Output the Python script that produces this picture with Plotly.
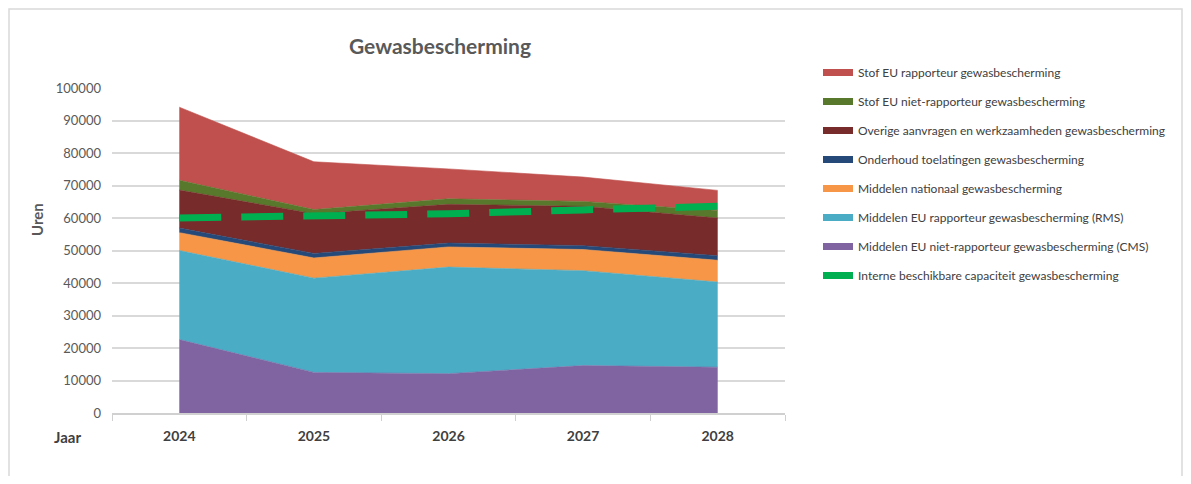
import plotly.graph_objects as go

years = ["2024", "2025", "2026", "2027", "2028"]

cms = [22600, 12500, 12100, 14600, 14100]            # Middelen EU niet-rapporteur (CMS)
rms = [27400, 29000, 32800, 29200, 26200]            # Middelen EU rapporteur (RMS)
nationaal = [5500, 6200, 6200, 6500, 6700]           # Middelen nationaal
onderhoud = [1400, 1400, 1200, 1200, 1400]           # Onderhoud toelatingen
overige = [11700, 12200, 11900, 12100, 11600]        # Overige aanvragen en werkzaamheden
stof_niet = [3000, 1300, 1700, 1500, 2300]           # Stof EU niet-rapporteur
stof_rap = [22500, 14700, 9200, 7500, 6200]          # Stof EU rapporteur
capaciteit = [60000, 60500, 61300, 62500, 63600]     # Interne beschikbare capaciteit

series = [
    ("Middelen EU niet-rapporteur gewasbescherming (CMS)", cms, "#8064A2"),
    ("Middelen EU rapporteur gewasbescherming (RMS)", rms, "#4BACC6"),
    ("Middelen nationaal gewasbescherming", nationaal, "#F79646"),
    ("Onderhoud toelatingen gewasbescherming", onderhoud, "#254A7A"),
    ("Overige aanvragen en werkzaamheden gewasbescherming", overige, "#772B2A"),
    ("Stof EU niet-rapporteur gewasbescherming", stof_niet, "#58792C"),
    ("Stof EU rapporteur gewasbescherming", stof_rap, "#C0504D"),
]
cap_name = "Interne beschikbare capaciteit gewasbescherming"
cap_color = "#00B050"

OFF = 8  # page body margin
W, H = 1191 - 2 * OFF, 484 - 2 * OFF
# plot area in reference page pixels
L, R, T, B = 112 - OFF, 785 - OFF, 88 - OFF, 413 - OFF

def px_x(p):  # reference page px -> paper x
    return (p - OFF - L) / (R - L)

def px_y(p):  # reference page px -> paper y
    return (B - (p - OFF)) / (B - T)

fig = go.Figure()
for name, vals, col in series:
    fig.add_trace(go.Scatter(
        x=years, y=vals, name=name, stackgroup="one", mode="lines",
        line=dict(width=0.6, color=col), fillcolor=col, showlegend=False,
        hoverinfo="x+y+name"))

fig.add_trace(go.Scatter(
    x=years, y=capaciteit, name=cap_name, mode="lines",
    line=dict(color=cap_color, width=7, dash="42px,20px"), showlegend=False))

# legend entries (top to bottom as in reference)
for name, vals, col in reversed(series):
    fig.add_trace(go.Scatter(x=[None], y=[None], mode="lines", name=name,
                             line=dict(color=col, width=7), legendgroup=name))
fig.add_trace(go.Scatter(x=[None], y=[None], mode="lines", name=cap_name,
                         line=dict(color=cap_color, width=7), legendgroup=cap_name))

font_family = "Lato, 'Open Sans', sans-serif"

fig.update_layout(
    width=W, height=H,
    margin=dict(l=L, r=W - R, t=T, b=H - B, pad=0),
    paper_bgcolor="white", plot_bgcolor="white",
    font=dict(family=font_family, color="#595959", size=13),
    title=dict(text="Gewasbescherming", xref="container", yref="container",
               x=(440 - OFF) / W, y=1 - (47 - OFF) / H, xanchor="center", yanchor="middle",
               font=dict(size=21, weight="bold", color="#595959", family=font_family)),
    xaxis=dict(type="category", range=[-0.5, 4.5], showgrid=False,
               showline=True, linecolor="#d0d0d0", linewidth=1.5,
               ticks="outside", tickson="boundaries", ticklen=6, tickcolor="#d0d0d0",
               ticklabelstandoff=9,
               tickfont=dict(size=14, weight="bold", color="#404040")),
    yaxis=dict(range=[0, 100000], dtick=10000, showgrid=True, gridcolor="#d9d9d9",
               gridwidth=1.5, zeroline=False, showline=False, ticks="",
               ticklabelstandoff=10, tickformat="d",
               tickfont=dict(size=13, color="#595959")),
    legend=dict(xref="container", yref="container", x=(858 - 40 - OFF) / W,
                y=1 - (72 - 14 - OFF) / H,
                xanchor="left", yanchor="top", tracegroupgap=10,
                font=dict(size=12, color="#404040", family=font_family),
                bgcolor="rgba(0,0,0,0)"),
    hovermode="closest",
)

fig.add_annotation(text="<b>Uren</b>", xref="paper", yref="paper",
                   x=px_x(37), y=px_y(220), textangle=-90,
                   xanchor="center", yanchor="middle",
                   showarrow=False, font=dict(size=15, color="#595959"))
fig.add_annotation(text="<b>Jaar</b>", xref="paper", yref="paper",
                   x=px_x(67), y=px_y(437), xanchor="center", yanchor="middle",
                   showarrow=False, font=dict(size=15, color="#404040"))

fig.add_shape(type="rect", xref="paper", yref="paper",
              x0=px_x(9), x1=px_x(1182),
              y0=px_y(500), y1=px_y(9),
              line=dict(color="#d9d9d9", width=1.5), fillcolor="rgba(0,0,0,0)",
              layer="below")

fig.write_html("out.html")
